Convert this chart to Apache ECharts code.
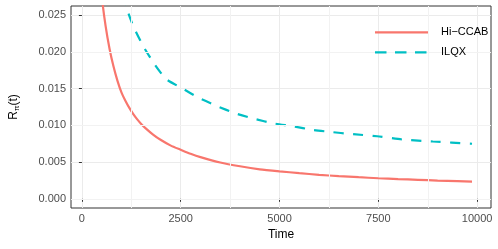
<!DOCTYPE html>
<html>
<head>
<meta charset="utf-8">
<script src="https://cdn.jsdelivr.net/npm/echarts@6/dist/echarts.min.js"></script>
<style>
  html, body { margin: 0; padding: 0; background: #fff; }
  #chart { width: 498px; height: 249px; }
</style>
</head>
<body>
<div id="chart"></div>
<script>
const seriesNames = ['Hi\u2212CCAB', 'ILQX'];
// Hi-CCAB (solid)
const hiTime = [250, 400, 500, 600, 700, 800, 900, 1000, 1100, 1200, 1300, 1400, 1500, 1600, 1800, 2000, 2250, 2500, 2750, 3000, 3500, 4000, 4500, 5000, 5500, 6000, 6500, 7000, 7500, 8000, 8500, 9000, 9500, 9870];
const hiVal = [0.054, 0.0343, 0.0277, 0.0235, 0.0204, 0.0180, 0.01606, 0.0145, 0.01336, 0.01238, 0.01154, 0.01082, 0.0102, 0.00966, 0.00875, 0.0080, 0.00724, 0.00668, 0.00613, 0.00567, 0.00494, 0.00443, 0.00402, 0.00374, 0.00349, 0.00327, 0.00309, 0.00294, 0.0028, 0.00269, 0.00259, 0.00249, 0.00241, 0.00234];
// ILQX (dashed)
const ilTime = [900, 1130, 1300, 1550, 1840, 2130, 2550, 2970, 3430, 3880, 4380, 4840, 5340, 5840, 6300, 6800, 7470, 8130, 8880, 9870];
const ilVal = [0.033, 0.02605, 0.0235, 0.0208, 0.0183, 0.0163, 0.0150, 0.0137, 0.0126, 0.01164, 0.01087, 0.01028, 0.00988, 0.00938, 0.0091, 0.00883, 0.00852, 0.00806, 0.0078, 0.0075];

const xTicks = [0, 2500, 5000, 7500, 10000];
const yTicks = [0, 0.005, 0.01, 0.015, 0.02, 0.025];
const xMinor = [1250, 3750, 6250, 8750];
const yMinor = [0.0025, 0.0075, 0.0125, 0.0175, 0.0225];

const chart = echarts.init(document.getElementById('chart'));
const font = 'Liberation Sans, Arial, sans-serif';
const gridLine = { color: '#EBEBEB', width: 1 };
const red = '#F8766D';
const teal = '#00BFC4';

const minorLines = xMinor.map(v => ({ xAxis: v })).concat(yMinor.map(v => ({ yAxis: v })));

// legend drawn by hand (line keys + labels), above the grid lines
function legendItem(i, color, lineDash) {
  const y = 32.3 + i * 20;
  return [
    { type: 'line', z: 100, shape: { x1: 375, y1: y, x2: 428, y2: y }, style: { stroke: color, lineWidth: 2.2, lineDash: lineDash } },
    { type: 'text', z: 100, x: 441, y: y, style: { text: seriesNames[i], fill: '#000', font: '11px ' + font, textVerticalAlign: 'middle' } }
  ];
}

chart.setOption({
  animation: false,
  grid: { left: 67, top: 6, width: 424, height: 202, show: true, borderColor: '#333333', borderWidth: 1, backgroundColor: 'transparent' },
  graphic: legendItem(0, red, null).concat(legendItem(1, teal, [11.5, 8.5])),
  xAxis: {
    type: 'value', min: -276, max: 10350,
    name: 'Time', nameLocation: 'middle', nameGap: 21,
    nameTextStyle: { fontFamily: font, fontSize: 12, color: '#000' },
    axisLine: { show: false },
    axisTick: { show: true, length: 3, lineStyle: { color: '#333333' }, customValues: xTicks },
    axisLabel: { fontFamily: font, fontSize: 11, color: '#4D4D4D', margin: 5, customValues: xTicks, formatter: v => String(v) },
    splitLine: { show: true, lineStyle: gridLine }
  },
  yAxis: {
    type: 'value', min: -0.00125, max: 0.02625,
    name: '{a|R}{b|\u03c0}{a|(t)}', nameLocation: 'middle', nameGap: 50,
    nameTextStyle: { fontFamily: font, rich: { a: { fontFamily: font, fontSize: 12, color: '#000' }, b: { fontFamily: font, fontSize: 8, color: '#000', verticalAlign: 'bottom', padding: [6, 0, 0, 0] } } },
    axisLine: { show: false },
    axisTick: { show: true, length: 3, lineStyle: { color: '#333333' }, customValues: yTicks },
    axisLabel: { fontFamily: font, fontSize: 11, color: '#4D4D4D', margin: 5, customValues: yTicks, formatter: v => v.toFixed(3) },
    splitLine: { show: true, lineStyle: gridLine }
  },
  series: [
    {
      name: 'grid', type: 'line', data: [[null, null]], silent: true, z: 1,
      markLine: { silent: true, symbol: 'none', label: { show: false }, lineStyle: { color: '#F2F2F2', width: 1, type: 'solid' }, data: minorLines }
    },
    {
      name: seriesNames[0], type: 'line', smooth: 0.15, showSymbol: false, symbol: 'none', z: 3,
      data: hiTime.map((t, i) => [t, hiVal[i]]),
      lineStyle: { color: red, width: 2.2 }, itemStyle: { color: red }
    },
    {
      name: seriesNames[1], type: 'line', smooth: 0.2, showSymbol: false, symbol: 'none', z: 3,
      data: ilTime.map((t, i) => [t, ilVal[i]]),
      lineStyle: { color: teal, width: 2.2, type: [10, 9.5] }, itemStyle: { color: teal }
    }
  ]
});
</script>
</body>
</html>
